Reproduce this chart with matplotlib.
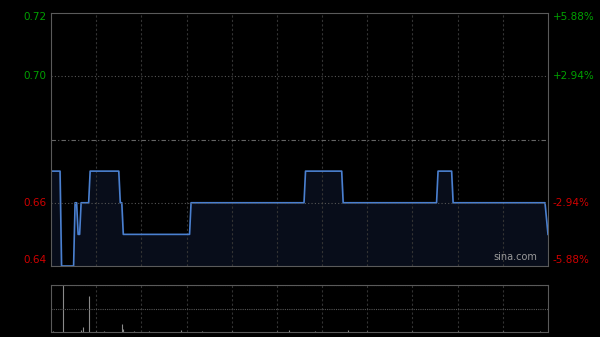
import matplotlib
matplotlib.use('Agg')
import numpy as np
import matplotlib.pyplot as plt

# intraday price, minutes since open (330 min session)
minutes = [0, 6, 7, 15, 16, 17, 18, 19, 20, 25, 26, 45, 46, 47, 48, 92, 93,
           168, 169, 193, 194, 256, 257, 266, 267, 328, 330]
prices = [0.67, 0.67, 0.64, 0.64, 0.66, 0.66, 0.65, 0.65, 0.66, 0.66, 0.67, 0.67,
          0.66, 0.66, 0.65, 0.65, 0.66, 0.66, 0.67, 0.67, 0.66, 0.66, 0.67, 0.67,
          0.66, 0.66, 0.65]

vol_minutes = [1, 8, 20, 21, 25, 30, 35, 47, 48, 55, 65, 86, 100, 120, 150, 158,
               175, 197, 210, 240, 270, 300, 325]
volumes = [0.03, 1.0, 0.04, 0.11, 0.77, 0.02, 0.02, 0.17, 0.06, 0.02, 0.02, 0.04,
           0.02, 0.02, 0.02, 0.04, 0.02, 0.05, 0.02, 0.02, 0.02, 0.02, 0.02]

prev_close = 0.68
left_ticks = [0.72, 0.70, 0.66, 0.64]
right_labels = ['+5.88%', '+2.94%', '-2.94%', '-5.88%']
tick_colors = ['#00a000', '#00a000', '#d00000', '#d00000']

fig = plt.figure(figsize=(6, 3.37), dpi=100, facecolor='black')
ax = fig.add_axes([51/600, 1 - 266/337, 497/600, 253/337])
axv = fig.add_axes([51/600, 1 - 332/337, 497/600, 47/337])

for a in (ax, axv):
    a.set_facecolor('black')
    for s in a.spines.values():
        s.set_color('#5a5a5a')
    a.set_xticks([])
    a.set_yticks([])
    a.set_xlim(0, 330)
    for i in range(1, 11):
        a.axvline(i * 30, color='#333333', lw=0.8, ls=(0, (2, 2)))

ax.set_ylim(0.64, 0.72)
ax.fill_between(minutes, prices, 0.64, color='#080d1a')
ax.plot(minutes, prices, color='#4a80d0', lw=1.2)

ax.axhline(0.70, color='#555555', lw=0.8, ls=(0, (1, 2)))
ax.axhline(0.66, color='#555555', lw=0.8, ls=(0, (1, 2)))
ax.axhline(prev_close, color='#666666', lw=0.8, ls=(0, (4, 2, 1, 2)))

for v, lab, c in zip(left_ticks, right_labels, tick_colors):
    off = 0
    if v == 0.72:
        off = -0.0013
    if v == 0.64:
        off = 0.0018
    ax.text(-3, v + off, f'{v:.2f}', color=c, fontsize=7.5, ha='right', va='center')
    ax.text(333, v + off, lab, color=c, fontsize=7.5, ha='left', va='center')

ax.text(323, 0.6412, 'sina.com', color='#9a9a9a', fontsize=7, ha='right', va='bottom')

axv.set_ylim(0, 1.0)
axv.vlines(vol_minutes, 0, volumes, color='#8a8a8a', lw=0.8)
axv.axhline(1.0, color='#555555', lw=0.8, ls=(0, (1, 1)))
axv.axhline(0.5, color='#555555', lw=0.8, ls=(0, (1, 1)))

fig.savefig('out.png', dpi=100, facecolor='black')
